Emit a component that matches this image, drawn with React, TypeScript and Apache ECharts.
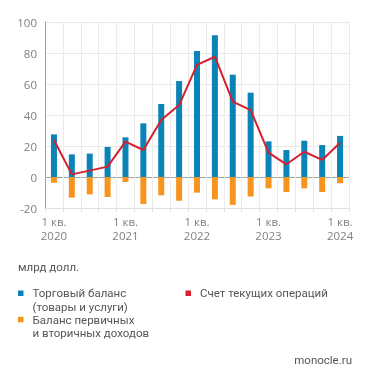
import React, { useEffect, useRef } from "react";
import * as echarts from "echarts";

const quarters = [
  "1 кв. 2020", "2 кв. 2020", "3 кв. 2020", "4 кв. 2020",
  "1 кв. 2021", "2 кв. 2021", "3 кв. 2021", "4 кв. 2021",
  "1 кв. 2022", "2 кв. 2022", "3 кв. 2022", "4 кв. 2022",
  "1 кв. 2023", "2 кв. 2023", "3 кв. 2023", "4 кв. 2023",
  "1 кв. 2024",
];
const tradeBalance = [27.5, 14.6, 15.1, 19.4, 25.6, 34.6, 47.1, 61.9, 81.3, 91.4, 66.0, 54.4, 23.0, 17.4, 23.4, 20.6, 26.5];
const incomeBalance = [-3.7, -13.3, -11.2, -12.9, -3.2, -17.4, -11.8, -15.3, -10.1, -14.4, -18.0, -12.6, -7.3, -9.7, -7.3, -9.7, -4.1];
const currentAccount = [23.9, 1.7, 4.1, 6.7, 22.8, 17.4, 36.8, 46.4, 72.3, 77.6, 48.6, 43.2, 15.7, 8.2, 16.3, 11.0, 22.1];

const yMin = -20;
const yMax = 100;
const yStep = 20;

const BLUE = "#0a83b6";
const ORANGE = "#f7941d";
const RED = "#d71f2d";
const FONT = "'Open Sans', 'Noto Sans', sans-serif";
const LEG_FONT = `11.5px Roboto, 'Open Sans', sans-serif`;

function legText(x: number, y: number, text: string) {
  return {
    type: "text",
    x,
    y,
    style: { text, fill: "#555", font: LEG_FONT, textVerticalAlign: "middle", verticalAlign: "middle" },
  };
}

export default function App() {
  const ref = useRef<HTMLDivElement>(null);
  useEffect(() => {
    if (!ref.current) return;
    const chart = echarts.init(ref.current, undefined, { renderer: "svg" });
    const splitColors: string[] = [];
    for (let v = yMin; v <= yMax; v += yStep) splitColors.push(v === 0 ? "#a6a6a6" : "#e8e8e8");
    chart.setOption({
      animation: false,
      textStyle: { fontFamily: FONT },
      grid: { left: 45, right: 22, top: 22, bottom: 175, containLabel: false },
      xAxis: {
        type: "category",
        data: quarters,
        boundaryGap: true,
        axisLine: { show: true, onZero: false, lineStyle: { color: "#e0e0e0", width: 1 } },
        axisTick: { show: true, interval: 0, length: 4, lineStyle: { color: "#e0e0e0" } },
        splitLine: { show: true, interval: 0, lineStyle: { color: "#ebebeb", width: 1 } },
        axisLabel: {
          interval: 3,
          margin: 7,
          color: "#808080",
          fontSize: 11.5,
          lineHeight: 13.5,
          fontFamily: FONT,
          formatter: (v: string) => v.replace(/ (\d{4})$/, "\n$1"),
        },
      },
      yAxis: {
        type: "value",
        min: yMin,
        max: yMax,
        interval: yStep,
        axisLine: { show: true, lineStyle: { color: "#a0a0a0", width: 1 } },
        axisTick: { show: false },
        splitLine: { show: true, lineStyle: { color: splitColors, width: 1 } },
        axisLabel: { color: "#808080", fontSize: 11.5, margin: 8, fontFamily: FONT },
      },
      series: [
        {
          name: "Торговый баланс (товары и услуги)",
          type: "bar",
          stack: "bal",
          data: tradeBalance,
          barWidth: 6,
          itemStyle: { color: BLUE },
        },
        {
          name: "Баланс первичных и вторичных доходов",
          type: "bar",
          stack: "bal",
          data: incomeBalance,
          barWidth: 6,
          itemStyle: { color: ORANGE },
        },
        {
          name: "Счет текущих операций",
          type: "line",
          data: currentAccount,
          showSymbol: false,
          symbol: "none",
          lineStyle: { color: RED, width: 2 },
          itemStyle: { color: RED },
          z: 5,
        },
      ],
      graphic: [
        legText(18, 266.5, "млрд долл."),
        { type: "rect", shape: { x: 18, y: 290.5, width: 5.5, height: 5.5 }, style: { fill: BLUE } },
        legText(32.5, 293, "Торговый баланс"),
        legText(32.5, 306.5, "(товары и услуги)"),
        { type: "rect", shape: { x: 18, y: 316.8, width: 5.5, height: 5.5 }, style: { fill: ORANGE } },
        legText(32.5, 319.5, "Баланс первичных"),
        legText(32.5, 333, "и вторичных доходов"),
        { type: "rect", shape: { x: 185.5, y: 290.5, width: 5.5, height: 5.5 }, style: { fill: RED } },
        legText(200, 293, "Счет текущих операций"),
        {
          type: "text",
          x: 352,
          y: 360,
          style: { text: "monocle.ru", fill: "#555", font: LEG_FONT, textAlign: "right", align: "right", textVerticalAlign: "middle", verticalAlign: "middle" },
        },
      ],
    });
    return () => chart.dispose();
  }, []);
  return <div ref={ref} style={{ position: "fixed", left: 0, top: 0, width: 371, height: 383 }} />;
}
